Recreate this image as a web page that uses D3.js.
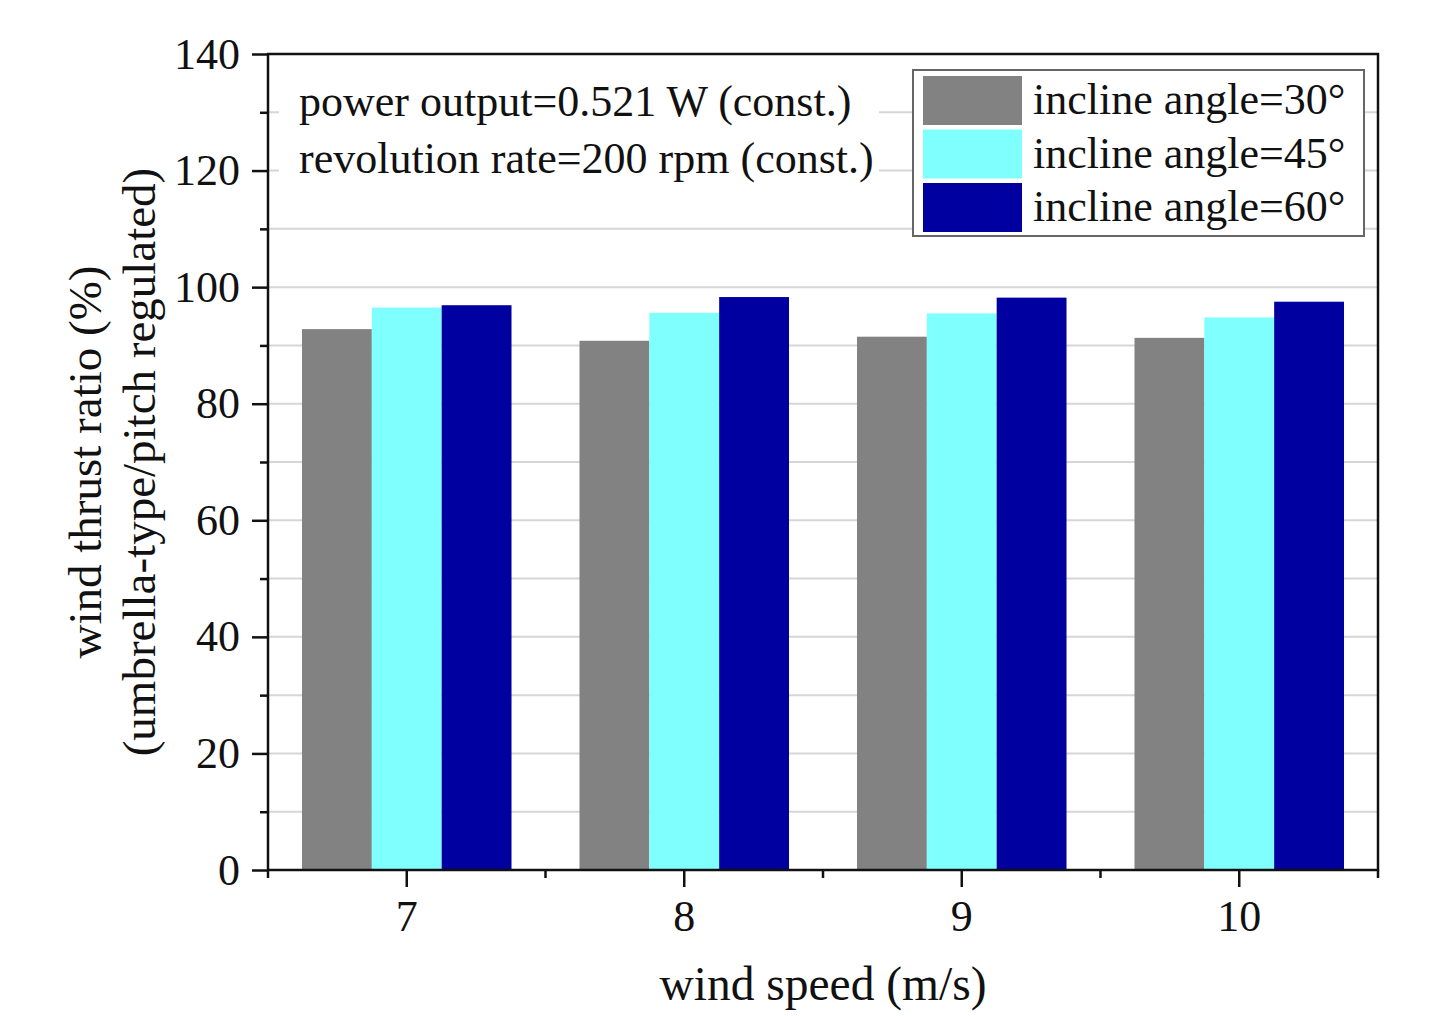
<!DOCTYPE html>
<html>
<head>
<meta charset="utf-8">
<script src="https://cdn.jsdelivr.net/npm/d3@7"></script>
<style>
  body { margin: 0; background: #fff; }
  svg text { font-family: "Liberation Serif", "Times New Roman", serif; fill: #111; }
</style>
</head>
<body>
<svg id="chart" width="1452" height="1016"></svg>
<script>
// wind speed categories and the three incline angle series
var speeds = ["7", "8", "9", "10"];
var seriesNames = ["incline angle=30°", "incline angle=45°", "incline angle=60°"];
var angle30 = [92.8, 90.8, 91.5, 91.3];
var angle45 = [96.5, 95.6, 95.5, 94.8];
var angle60 = [96.9, 98.3, 98.2, 97.5];
var yMajorTicks = [0, 20, 40, 60, 80, 100, 120, 140];
var yMinorTicks = [10, 30, 50, 70, 90, 110, 130];
var gridValues = [10, 20, 30, 40, 50, 60, 70, 80, 90, 100, 110, 120, 130];
var notes = ["power output=0.521 W (const.)", "revolution rate=200 rpm (const.)"];
var colors = ["#828282", "#80ffff", "#0000a0"];

var allSeries = [angle30, angle45, angle60];

// plot frame (note: "top" is reserved by window, so prefixed names)
var pLeft = 268, pRight = 1378, pTop = 54, pBottom = 870;
var svg = d3.select("#chart");

var x0 = d3.scaleBand().domain(speeds).range([pLeft, pRight])
  .paddingInner(0.245).paddingOuter(0.1225);
var x1 = d3.scaleBand().domain(d3.range(seriesNames.length)).range([0, x0.bandwidth()]);
var y = d3.scaleLinear().domain([0, 140]).range([pBottom, pTop]);

// grid lines
svg.append("g").selectAll("line")
  .data(gridValues).enter().append("line")
  .attr("x1", pLeft).attr("x2", pRight)
  .attr("y1", function(d){ return y(d); })
  .attr("y2", function(d){ return y(d); })
  .style("stroke", "#d6d6d6")
  .style("stroke-width", 2);

// white box behind the notes
svg.append("rect")
  .attr("x", 279).attr("y", 62).attr("width", 600).attr("height", 140)
  .style("fill", "#fff");

// bars
var groups = svg.append("g").selectAll("g")
  .data(speeds).enter().append("g")
  .attr("transform", function(d){ return "translate(" + x0(d) + ",0)"; });
groups.selectAll("rect")
  .data(function(d, i){ return allSeries.map(function(s, k){ return {k: k, v: s[i]}; }); })
  .enter().append("rect")
  .attr("x", function(d){ return x1(d.k); })
  .attr("width", x1.bandwidth())
  .attr("y", function(d){ return y(d.v); })
  .attr("height", function(d){ return pBottom - y(d.v); })
  .style("fill", function(d){ return colors[d.k]; });

// y axis, major and minor ticks
var yAxis = svg.append("g")
  .attr("transform", "translate(" + pLeft + ",0)")
  .call(d3.axisLeft(y).tickValues(yMajorTicks).tickSize(16).tickSizeOuter(0).tickPadding(12));
yAxis.selectAll("text").style("font-size", "44px").style("font-family", "Liberation Serif");
svg.append("g")
  .attr("transform", "translate(" + pLeft + ",0)")
  .call(d3.axisLeft(y).tickValues(yMinorTicks).tickSize(8).tickSizeOuter(0).tickFormat(""));

// x axis, ticks at centers plus minor ticks at group boundaries
var xAxis = svg.append("g")
  .attr("transform", "translate(0," + pBottom + ")")
  .call(d3.axisBottom(x0).tickSize(17).tickSizeOuter(0).tickPadding(13));
xAxis.selectAll("text").style("font-size", "44px").style("font-family", "Liberation Serif");
var bounds = d3.range(speeds.length + 1).map(function(i){ return pLeft + i * x0.step(); });
svg.append("g").selectAll("line")
  .data(bounds).enter().append("line")
  .attr("x1", function(d){ return d; }).attr("x2", function(d){ return d; })
  .attr("y1", pBottom).attr("y2", pBottom + 8)
  .style("stroke", "#111").style("stroke-width", 2.5);

svg.selectAll(".domain").remove();
svg.selectAll(".tick line").style("stroke", "#111").style("stroke-width", 2.5);

// frame
svg.append("rect")
  .attr("x", pLeft).attr("y", pTop).attr("width", pRight - pLeft).attr("height", pBottom - pTop)
  .style("fill", "none").style("stroke", "#111").style("stroke-width", 2.5);

// notes
svg.append("g").selectAll("text")
  .data(notes).enter().append("text")
  .attr("x", 299)
  .attr("y", function(d, i){ return 116 + i * 57; })
  .style("font-size", "44px")
  .text(function(d){ return d; });

// legend
var legend = svg.append("g");
legend.append("rect")
  .attr("x", 913).attr("y", 70).attr("width", 451).attr("height", 166)
  .style("fill", "#fff").style("stroke", "#666").style("stroke-width", 2);
var items = legend.selectAll("g.item")
  .data(seriesNames).enter().append("g").attr("class", "item")
  .attr("transform", function(d, i){ return "translate(923," + (76 + i * 53.5) + ")"; });
items.append("rect")
  .attr("width", 99).attr("height", 49)
  .style("fill", function(d, i){ return colors[i]; });
items.append("text")
  .attr("x", 110).attr("y", 38)
  .style("font-size", "44px")
  .text(function(d){ return d; });

// axis titles
svg.append("text")
  .attr("x", (pLeft + pRight) / 2).attr("y", 1000)
  .attr("text-anchor", "middle")
  .style("font-size", "47.5px")
  .text("wind speed (m/s)");
var yTitle = svg.append("text")
  .attr("transform", "translate(0," + ((pTop + pBottom) / 2) + ") rotate(-90)")
  .attr("text-anchor", "middle")
  .style("font-size", "47px");
yTitle.append("tspan").attr("x", 0).attr("y", 101).text("wind thrust ratio (%)");
yTitle.append("tspan").attr("x", 0).attr("y", 155).text("(umbrella-type/pitch regulated)");
</script>
</body>
</html>
